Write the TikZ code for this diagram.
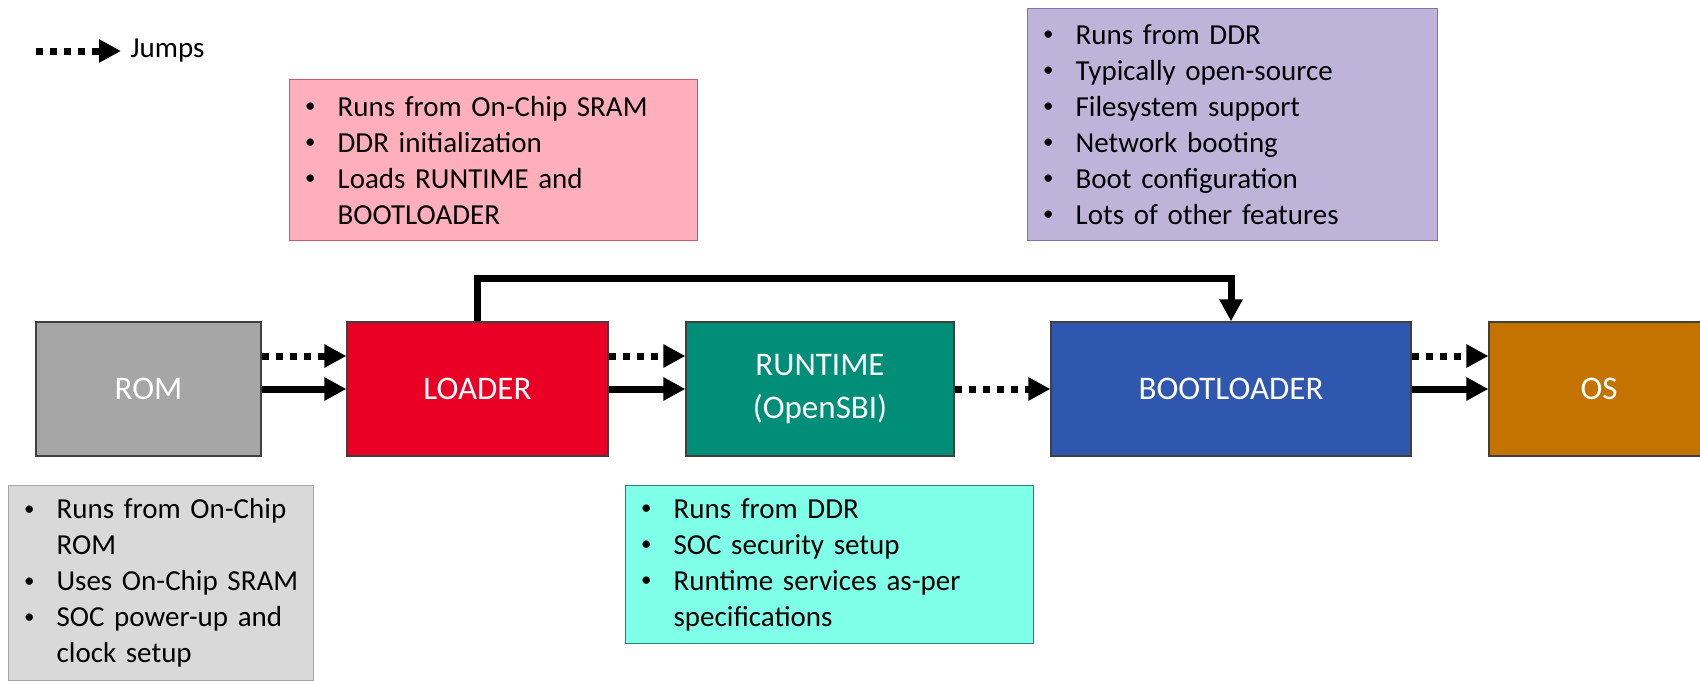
\documentclass[tikz,border=0pt]{standalone}
\usepackage{fontspec}
\setmainfont{Carlito}
\usetikzlibrary{positioning,arrows.meta}

\definecolor{romgray}{RGB}{166,166,166}
\definecolor{loadred}{RGB}{234,0,36}
\definecolor{rtteal}{RGB}{0,142,120}
\definecolor{bootblue}{RGB}{47,87,176}
\definecolor{osorange}{RGB}{197,115,0}
\definecolor{romnote}{RGB}{217,217,217}
\definecolor{loadnote}{RGB}{255,174,188}
\definecolor{rtnote}{RGB}{128,255,232}
\definecolor{bootnote}{RGB}{190,180,218}

\newcommand{\bpt}[1]{\makebox[17pt][l]{\hspace{0.8pt}\raisebox{0.12em}{\scalebox{0.72}{\textbullet}}}\mbox{#1}}
\newcommand{\bnx}[1]{\hspace*{17pt}\mbox{#1}}

\begin{document}
\begin{tikzpicture}[x=0.5pt,y=-0.5pt,
  stage/.style={draw=black!75,line width=0.6pt,minimum height=67pt,text=white,align=center,font=\fontsize{16.5}{21.5}\selectfont},
  note/.style={line width=0.6pt,anchor=north west,inner xsep=7pt,align=left,font=\fontsize{14.5}{18}\selectfont},
  jump/.style={-{Triangle[length=11pt,width=11pt]},line width=3.5pt,dash pattern=on 3.5pt off 3.5pt},
  flow/.style={-{Triangle[length=11pt,width=11pt]},line width=3.5pt}]
\path[use as bounding box,clip] (0,0) rectangle (1700,680);

\coordinate (key) at (36,51);
\node[right,inner xsep=4.5pt,font=\fontsize{14.5}{18}\selectfont] (keytxt) at (121,51) {Jumps};
\draw[jump] (key) -- (keytxt.west);

\node[stage,fill=romgray,minimum width=112.5pt] (rom) at (148.5,389) {ROM};
\node[stage,fill=loadred,minimum width=130.5pt] (loader) at (477.5,389) {LOADER};
\node[stage,fill=rtteal,minimum width=134pt] (runtime) at (820,389) {RUNTIME\\(OpenSBI)};
\node[stage,fill=bootblue,minimum width=180pt] (boot) at (1231,389) {BOOTLOADER};
\node[stage,fill=osorange,minimum width=110pt] (os) at (1599,389) {OS};

\node[note,fill=romnote,draw=black!35,text width=138.5pt,minimum height=97.5pt] (romtxt) at (8,485)
  {\bpt{Runs from On-Chip}\\ \bnx{ROM}\\ \bpt{Uses On-Chip SRAM}\\ \bpt{SOC power-up and}\\ \bnx{clock setup}};
\node[note,fill=loadnote,draw={rgb,255:red,200;green,90;blue,105},text width=190pt,minimum height=80.5pt] (loadtxt) at (289,79)
  {\bpt{Runs from On-Chip SRAM}\\ \bpt{DDR initialization}\\ \bpt{Loads RUNTIME and}\\ \bnx{BOOTLOADER}};
\node[note,fill=rtnote,draw={rgb,255:red,40;green,130;blue,110},text width=190pt,minimum height=79pt] (rttxt) at (625,485)
  {\bpt{Runs from DDR}\\ \bpt{SOC security setup}\\ \bpt{Runtime services as-per}\\ \bnx{specifications}};
\node[note,fill=bootnote,draw={rgb,255:red,135;green,110;blue,175},text width=191pt,minimum height=116pt] (boottxt) at (1027,8)
  {\bpt{Runs from DDR}\\ \bpt{Typically open-source}\\ \bpt{Filesystem support}\\ \bpt{Network booting}\\ \bpt{Boot configuration}\\ \bpt{Lots of other features}};

\draw[jump] ([yshift=16.5pt]rom.east) -- ([yshift=16.5pt]loader.west);
\draw[flow] (rom) -- (loader);
\draw[jump] ([yshift=16.5pt]loader.east) -- ([yshift=16.5pt]runtime.west);
\draw[flow] (loader) -- (runtime);
\draw[jump] (runtime) -- (boot);
\draw[jump] ([yshift=16.5pt]boot.east) -- ([yshift=16.5pt]os.west);
\draw[flow] (boot) -- (os);
\draw[flow] (loader.north) -- ++(0,-43) -| (boot.north);
\end{tikzpicture}
\end{document}
